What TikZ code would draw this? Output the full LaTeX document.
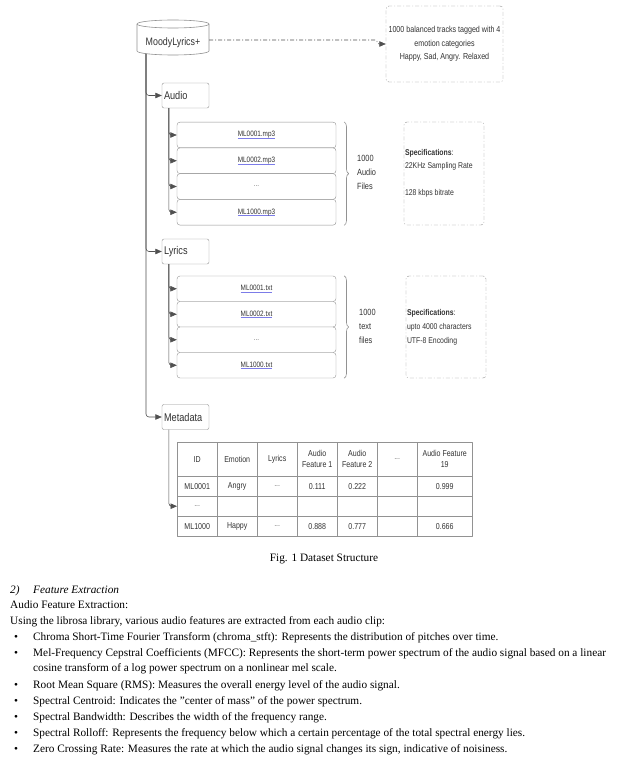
\documentclass[tikz,border=0pt]{standalone}
\usepackage{fontspec}
\setmainfont{Liberation Serif}
\newfontfamily\lucid[FakeStretch=0.82]{Liberation Sans}
\usetikzlibrary{arrows.meta,decorations.pathreplacing,positioning}
\definecolor{edgegray}{HTML}{505050}
\definecolor{boxgray}{HTML}{929292}
\definecolor{inkgray}{HTML}{333333}
\definecolor{linkblue}{HTML}{7C7CE8}
\newcommand\lucidsize[2]{\lucid\fontsize{#1}{#2}\selectfont\spaceskip=0.22em plus 0.05em minus 0.03em\relax}
\newcommand\lnk[1]{\setbox0\hbox{#1}\rlap{\color{linkblue}\rule[-1.6pt]{\wd0}{0.5pt}}\box0}
\newcommand\ellip{\textcolor{inkgray!70}{...}}
\begin{document}
\begin{tikzpicture}[x=1pt, y=-1pt, line join=round, >={Triangle[length=6.5pt,width=5.5pt]},
	lbl/.style={font=\lucidsize{10.8}{13}, text=inkgray},
	catbox/.style={lbl, font=\lucidsize{11.2}{13}, draw=boxgray, fill=white, rounded corners=2pt, minimum height=25, text width=43, inner xsep=2pt, align=flush left},
	filebox/.style={draw=boxgray, fill=white, rounded corners=3pt, minimum width=159, minimum height=25.75, inner sep=0pt, font=\lucidsize{7.8}{9}, text=inkgray},
	specbox/.style={draw=boxgray, dash pattern=on 4pt off 2pt on 1pt off 2pt, rounded corners=3pt, text=inkgray, inner sep=1pt},
	cell/.style={draw=boxgray, minimum height=20, inner sep=0pt, anchor=north west, align=center, font=\lucidsize{8.6}{11}, text=inkgray},
	conn/.style={draw=edgegray, line width=0.6pt, rounded corners=3pt, ->},
	body/.style={anchor=base west, inner sep=0pt, font=\fontsize{11.3}{13}\selectfont}]
	\useasboundingbox (0,0) rectangle (641,765);
	\fill[white] (0,0) rectangle (641,765);
	%Cylinder
	\filldraw[boxgray, fill=white, line width=0.6pt] (137,24) -- (137,51) arc[start angle=180, end angle=0, x radius=36, y radius=4] -- (209,24) arc[start angle=0, end angle=-180, x radius=36, y radius=4] -- cycle;
	\draw[boxgray, line width=0.6pt] (137,24) arc[start angle=180, end angle=0, x radius=36, y radius=4];
	\node[lbl, minimum width=72, inner sep=0pt] (db) at (173,43) {MoodyLyrics+};
	\coordinate (dbfoot) at (146,54);
	\node[specbox, minimum width=117, minimum height=76, align=center, font=\lucidsize{8.7}{13.5}] (info) at (444.5,44) {1000 balanced tracks tagged with 4\\emotion categories\\Happy, Sad, Angry. Relaxed};
	\draw[conn, rounded corners=2pt, dash pattern=on 4pt off 2pt on 1pt off 2pt] ([yshift=3pt]db.east) -- ++(168,0) |- (info.west);
	%Categories
	\node[catbox] (audio) at (185.5,95.5) {Audio};
	\node[catbox] (lyrics) at (185.5,251.5) {Lyrics};
	\node[catbox] (meta) at (185.5,417) {Metadata};
	\foreach \c in {audio,lyrics,meta}
	\draw[conn] (dbfoot) |- (\c.west);
	%Audio files
	\foreach \f [count=\i] in {\lnk{ML0001.mp3},\lnk{ML0002.mp3},\ellip,\lnk{ML1000.mp3}}{
		\node[filebox] (mp\i) at (256.5,{109.25+25.75*\i}) {\f};
		\draw[conn] ([xshift=7pt]audio.south west) |- (mp\i.west);
	}
	\draw[boxgray, line width=0.6pt, decorate, decoration={brace, amplitude=4.5pt}] ([xshift=8pt]mp1.north east) -- ([xshift=8pt]mp4.south east);
	\node[anchor=west, align=left, inner sep=0pt, font=\lucidsize{9}{14}, text=inkgray] (mpcount) at (357,172) {1000\\Audio\\Files};
	\node[specbox, minimum width=80, minimum height=103, text width=78, align=flush left, font=\lucidsize{8.4}{13.5}] (mpspec) at (444,173.5) {\textbf{Specifications}:\\22KHz Sampling Rate\\\mbox{}\\128 kbps bitrate};
	%Lyrics files
	\foreach \f [count=\i] in {\lnk{ML0001.txt},\lnk{ML0002.txt},\ellip,\lnk{ML1000.txt}}{
		\node[filebox, minimum height=25.5] (tx\i) at (256.5,{263.25+25.5*\i}) {\f};
		\draw[conn] ([xshift=7pt]lyrics.south west) |- (tx\i.west);
	}
	\draw[boxgray, line width=0.6pt, decorate, decoration={brace, amplitude=4.5pt}] ([xshift=8pt]tx1.north east) -- ([xshift=8pt]tx4.south east);
	\node[anchor=west, align=left, inner sep=0pt, font=\lucidsize{9}{14}, text=inkgray] (txcount) at (359,326) {1000\\text\\files};
	\node[specbox, minimum width=80, minimum height=102, text width=78, align=flush left, font=\lucidsize{8.4}{14}] (txspec) at (446,327) {\textbf{Specifications}:\\upto 4000 characters\\UTF-8 Encoding};
	%Metadata table
	\foreach \x/\w/\hd/\ra/\rb/\rc [count=\c] in {
		177/40/ID/ML0001/\ellip/ML1000,
		217/40/Emotion/Angry/{}/Happy,
		257/40/Lyrics/\ellip/{}/\ellip,
		297/40/{Audio\\Feature 1}/0.111/{}/0.888,
		337/40/{Audio\\Feature 2}/0.222/{}/0.777,
		377/40/\ellip/{}/{}/{},
		417/55/{Audio Feature\\19}/0.999/{}/0.666}{
		\node[cell, minimum width=\w, minimum height=34] (t0\c) at (\x,442) {\hd};
		\node[cell, minimum width=\w] (t1\c) at (\x,476) {\ra};
		\node[cell, minimum width=\w] (t2\c) at (\x,496) {\rb};
		\node[cell, minimum width=\w] (t3\c) at (\x,516) {\rc};
	}
	\draw[conn] ([xshift=7pt]meta.south west) |- (t21.west);
	%Caption and text
	\node[body, anchor=base] (cap) at (324,561.5) {Fig. 1 Dataset Structure};
	\node[body] (secnum) at (10,593) {\itshape 2)};
	\node[body] (sec) at (33,593) {\itshape Feature Extraction};
	\node[body] (sub) at (10,608) {Audio Feature Extraction:};
	\node[body] (intro) at (10,624) {Using the librosa library, various audio features are extracted from each audio clip:};
	\foreach \y/\t [count=\i] in {
		640/{Chroma Short-Time Fourier Transform (chroma\_stft): Represents the distribution of pitches over time.},
		656/{Mel-Frequency Cepstral Coefficients (MFCC): Represents the short-term power spectrum of the audio signal based on a linear},
		688/{Root Mean Square (RMS): Measures the overall energy level of the audio signal.},
		704/{Spectral Centroid: Indicates the "center of mass" of the power spectrum.},
		720/{Spectral Bandwidth: Describes the width of the frequency range.},
		736/{Spectral Rolloff: Represents the frequency below which a certain percentage of the total spectral energy lies.},
		752/{Zero Crossing Rate: Measures the rate at which the audio signal changes its sign, indicative of noisiness.}}{
		\node[body] (dot\i) at (14,\y) {•};
		\node[body] (item\i) at (33,\y) {\t};
	}
	\node[body] (item2b) at (33,671) {cosine transform of a log power spectrum on a nonlinear mel scale.};
\end{tikzpicture}
\end{document}
